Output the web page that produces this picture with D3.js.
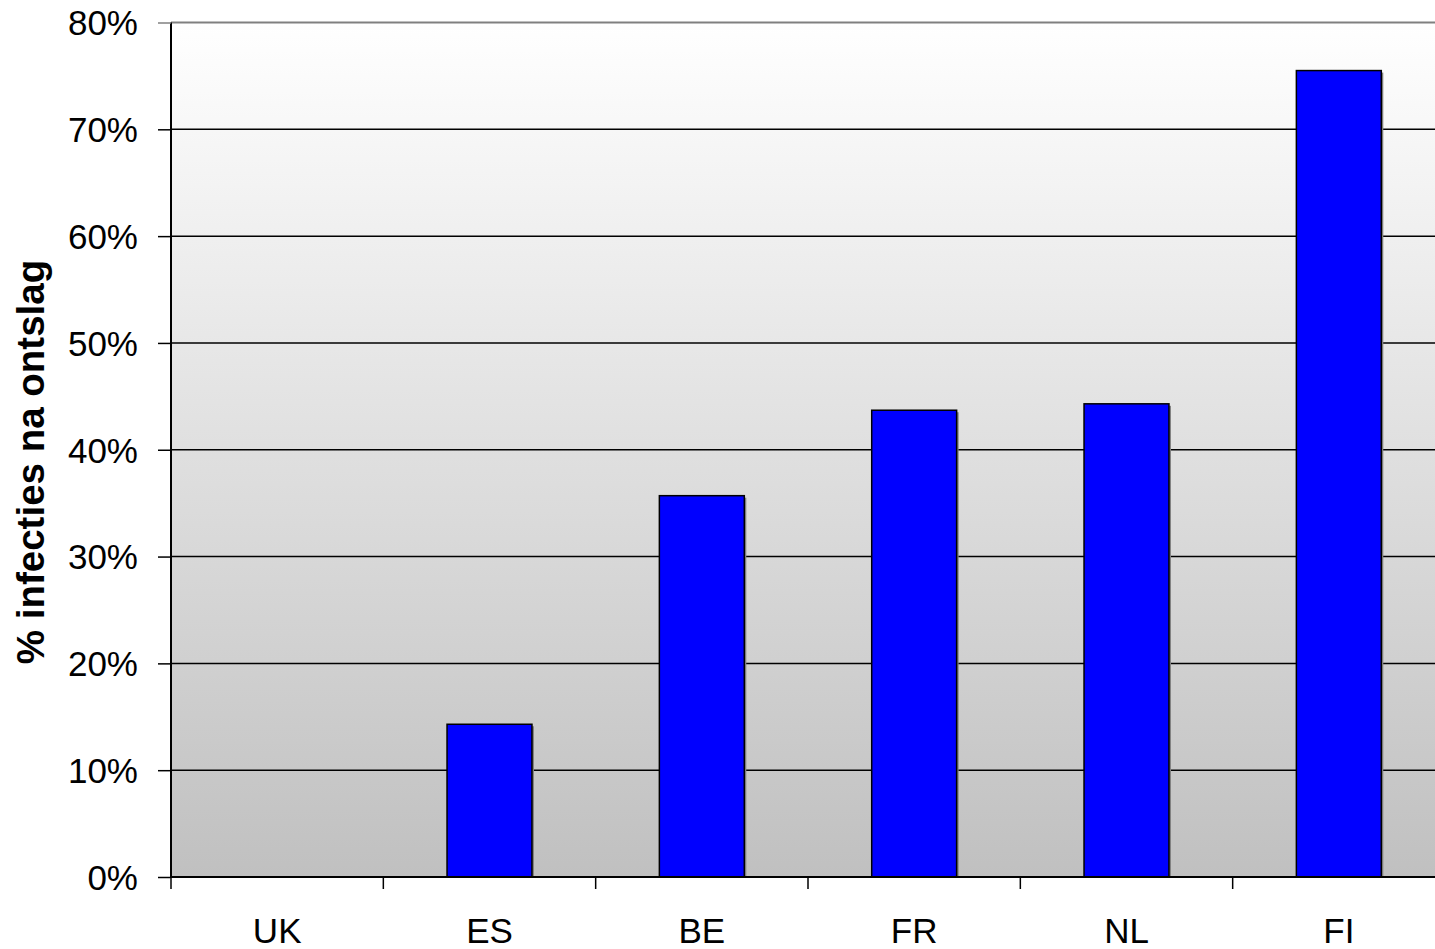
<!DOCTYPE html>
<html>
<head>
<meta charset="utf-8">
<script src="https://cdn.jsdelivr.net/npm/d3@7/dist/d3.min.js"></script>
<style>
  html, body { margin: 0; padding: 0; background: #ffffff; overflow: hidden; }
  svg { display: block; }
  text { font-family: "Liberation Sans", Arial, sans-serif; fill: #000; }
</style>
</head>
<body>
<svg id="chart" width="1435" height="949"></svg>
<script>
const categories = ["UK", "ES", "BE", "FR", "NL", "FI"];
const values = [0, 0.143, 0.357, 0.437, 0.443, 0.755];
const yTicks = [0, 0.1, 0.2, 0.3, 0.4, 0.5, 0.6, 0.7, 0.8];
const yTitle = "% infecties na ontslag";

(function () {
const pLeft = 171, pRight = 1445, pTop = 22.5, pBottom = 877;

const svg = d3.select("#chart");

const x = d3.scaleBand().domain(categories).range([pLeft, pRight])
  .paddingInner(0.6).paddingOuter(0.3);
const y = d3.scaleLinear().domain([0, 0.8]).range([pBottom, pTop]);
const step = x.step();

// background gradient
const defs = svg.append("defs");
const grad = defs.append("linearGradient").attr("id", "bg")
  .attr("x1", 0).attr("y1", 0).attr("x2", 0).attr("y2", 1);
grad.append("stop").attr("offset", "0%").attr("stop-color", "#ffffff");
grad.append("stop").attr("offset", "100%").attr("stop-color", "#c0c0c0");

svg.append("rect").attr("x", pLeft).attr("y", y(0.8))
  .attr("width", pRight - pLeft).attr("height", y(0) - y(0.8))
  .attr("fill", "url(#bg)");

// gridlines
svg.append("g").selectAll("line").data(yTicks.filter(d => d > 0)).join("line")
  .attr("x1", pLeft).attr("x2", pRight)
  .attr("y1", d => y(d)).attr("y2", d => y(d))
  .attr("stroke", d => d === 0.8 ? "#808080" : "#000")
  .attr("stroke-width", d => d === 0.8 ? 2 : 1.5);

const barData = categories.map((c, i) => ({c, v: values[i]})).filter(d => d.v > 0);

// bar shadows
svg.append("g").selectAll("rect").data(barData).join("rect")
  .attr("x", d => x(d.c) + 2)
  .attr("y", d => y(d.v) + 2)
  .attr("width", x.bandwidth())
  .attr("height", d => y(0) - y(d.v) - 2)
  .attr("fill", "#808080");

// bars
svg.append("g").selectAll("rect").data(barData).join("rect")
  .attr("x", d => x(d.c))
  .attr("y", d => y(d.v))
  .attr("width", x.bandwidth())
  .attr("height", d => y(0) - y(d.v))
  .attr("fill", "#0000ff")
  .attr("stroke", "#000")
  .attr("stroke-width", 1.5);

// y axis
const yAxis = d3.axisLeft(y).tickValues(yTicks).tickFormat(d3.format(".0%"))
  .tickSize(13).tickPadding(20);
const gy = svg.append("g").attr("transform", `translate(${pLeft},0)`).call(yAxis);
gy.select(".domain").attr("stroke", "#000").attr("stroke-width", 2)
  .attr("d", `M0,${y(0.8)}V${y(0)}`);
gy.selectAll(".tick line").attr("stroke", d => d === 0.8 ? "#808080" : "#000").attr("stroke-width", 1.5);
gy.selectAll(".tick text").style("font-size", "35px").attr("dy", "0.35em")
  .style("font-family", "'Liberation Sans', Arial, sans-serif").attr("fill", "#000");

// x axis
const xAxis = d3.axisBottom(x).tickSize(0).tickPadding(0);
const gx = svg.append("g").attr("transform", `translate(0,${pBottom})`).call(xAxis);
gx.select(".domain").attr("stroke", "#000").attr("stroke-width", 2)
  .attr("d", `M${pLeft},0H${pRight}`);
gx.selectAll(".tick text").style("font-size", "35px").attr("y", 66).attr("dy", 0)
  .style("font-family", "'Liberation Sans', Arial, sans-serif").attr("fill", "#000");
// category boundary ticks
svg.append("g").selectAll("line").data(d3.range(categories.length + 1)).join("line")
  .attr("x1", i => pLeft + i * step).attr("x2", i => pLeft + i * step)
  .attr("y1", pBottom).attr("y2", pBottom + 12)
  .attr("stroke", "#000").attr("stroke-width", 1.5);

// y title
svg.append("text")
  .attr("transform", `translate(44,462) rotate(-90)`)
  .attr("text-anchor", "middle")
  .style("font-size", "38.5px").style("font-weight", "bold")
  .text(yTitle);
})();
</script>
</body>
</html>
